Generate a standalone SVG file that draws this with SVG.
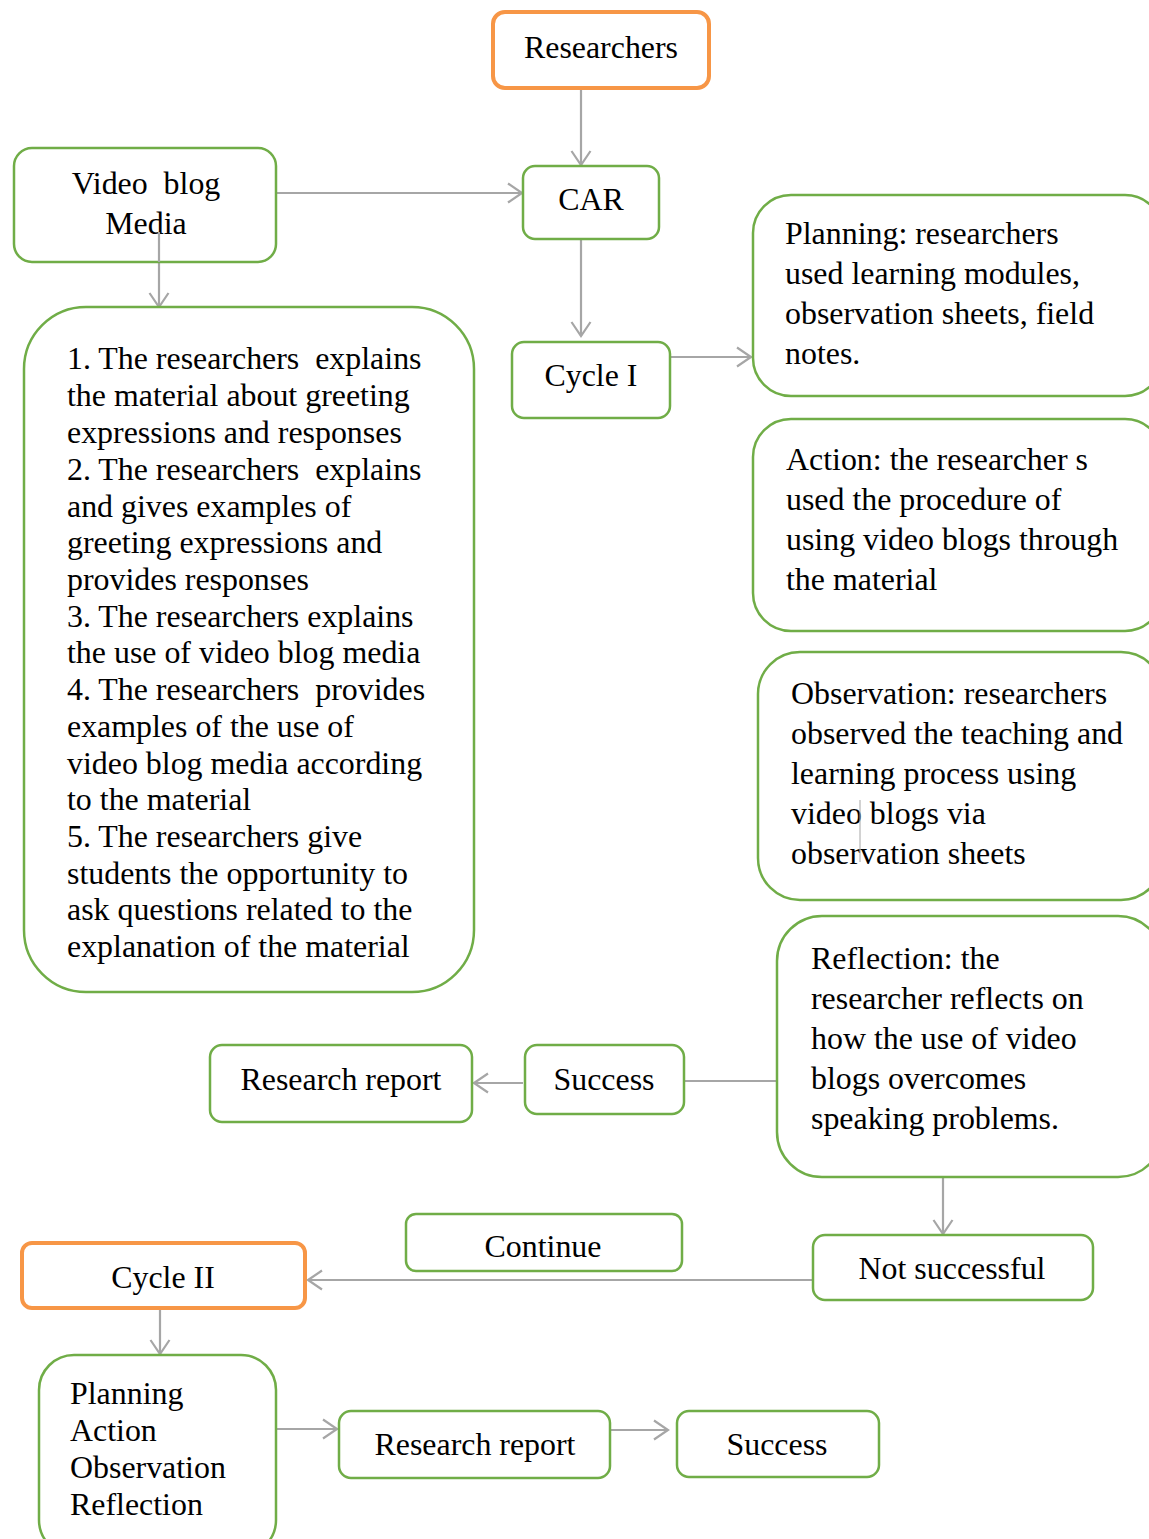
<svg xmlns="http://www.w3.org/2000/svg" width="1149" height="1539" viewBox="0 0 1149 1539">
<defs>
<marker id="arr" markerWidth="24" markerHeight="24" viewBox="0 0 24 24" refX="19" refY="12" orient="auto" markerUnits="userSpaceOnUse">
<path d="M5,2.5 L19,12 L5,21.5" fill="none" stroke="#a6a6a6" stroke-width="2.2"/>
</marker>
<style>
.g{fill:#fff;stroke:#70ad47;stroke-width:2.5}
.o{fill:#fff;stroke:#f79646;stroke-width:4}
text{font-family:"Liberation Serif","Times New Roman",serif;font-size:31.9px;fill:#000;white-space:pre}
.c{text-anchor:middle}
.ln{stroke:#a6a6a6;stroke-width:2.2;fill:none}
.la{stroke:#a6a6a6;stroke-width:2.2;fill:none;marker-end:url(#arr)}
</style>
</defs>
<rect width="1149" height="1539" fill="#fff"/>

<g id="connectors">
<line class="la" x1="581" y1="88" x2="581" y2="165"/>
<line class="la" x1="277" y1="193" x2="522" y2="193"/>
<line class="la" x1="159" y1="232" x2="159" y2="307"/>
<line class="la" x1="581" y1="239" x2="581" y2="336"/>
<line class="la" x1="670" y1="357" x2="751" y2="357"/>
<line class="ln" x1="684" y1="1081" x2="777" y2="1081"/>
<line class="la" x1="523" y1="1083" x2="474" y2="1083"/>
<line class="la" x1="943" y1="1177" x2="943" y2="1234"/>
<line class="la" x1="813" y1="1280" x2="308" y2="1280"/>
<line class="la" x1="160" y1="1308" x2="160" y2="1354"/>
<line class="la" x1="276" y1="1429" x2="337" y2="1429"/>
<line class="la" x1="611" y1="1430" x2="668" y2="1430"/>
</g>

<g id="researchers">
<rect class="o" x="493" y="12" width="216" height="76" rx="12"/>
<text class="c" x="601" y="58">Researchers</text>
</g>

<g id="videoblog">
<rect class="g" x="14" y="148" width="262" height="114" rx="18"/>
<text class="c" x="146" y="194">Video  blog</text>
<text class="c" x="146" y="234">Media</text>
</g>
<line x1="159" y1="232" x2="159" y2="262" stroke="#a6a6a6" stroke-width="2.2"/>

<g id="car">
<rect class="g" x="523" y="166" width="136" height="73" rx="12"/>
<text class="c" x="591" y="210">CAR</text>
</g>

<g id="cycle1">
<rect class="g" x="512" y="342" width="158" height="76" rx="12"/>
<text class="c" x="591" y="386">Cycle I</text>
</g>

<g id="steps">
<rect class="g" x="24" y="307" width="450" height="685" rx="62"/>
<text x="67" y="369">1. The researchers  explains</text>
<text x="67" y="406">the material about greeting</text>
<text x="67" y="443">expressions and responses</text>
<text x="67" y="480">2. The researchers  explains</text>
<text x="67" y="517">and gives examples of</text>
<text x="67" y="553">greeting expressions and</text>
<text x="67" y="590">provides responses</text>
<text x="67" y="627">3. The researchers explains</text>
<text x="67" y="663">the use of video blog media</text>
<text x="67" y="700">4. The researchers  provides</text>
<text x="67" y="737">examples of the use of</text>
<text x="67" y="774">video blog media according</text>
<text x="67" y="810">to the material</text>
<text x="67" y="847">5. The researchers give</text>
<text x="67" y="884">students the opportunity to</text>
<text x="67" y="920">ask questions related to the</text>
<text x="67" y="957">explanation of the material</text>
</g>

<g id="planning">
<rect class="g" x="753" y="195" width="410" height="201" rx="38"/>
<text x="785" y="244">Planning: researchers</text>
<text x="785" y="284">used learning modules,</text>
<text x="785" y="324">observation sheets, field</text>
<text x="785" y="364">notes.</text>
</g>

<g id="action">
<rect class="g" x="753" y="419" width="410" height="212" rx="38"/>
<text x="786" y="470">Action: the researcher s</text>
<text x="786" y="510">used the procedure of</text>
<text x="786" y="550">using video blogs through</text>
<text x="786" y="590">the material</text>
</g>

<g id="observation">
<rect class="g" x="758" y="652" width="405" height="248" rx="42"/>
<text x="791" y="704">Observation: researchers</text>
<text x="791" y="744">observed the teaching and</text>
<text x="791" y="784">learning process using</text>
<text x="791" y="824">video blogs via</text>
<text x="791" y="864">observation sheets</text>
<line x1="860" y1="800" x2="860" y2="862" stroke="#a6a6a6" stroke-width="1"/>
</g>

<g id="reflection">
<rect class="g" x="777" y="916" width="386" height="261" rx="45"/>
<text x="811" y="969">Reflection: the</text>
<text x="811" y="1009">researcher reflects on</text>
<text x="811" y="1049">how the use of video</text>
<text x="811" y="1089">blogs overcomes</text>
<text x="811" y="1129">speaking problems.</text>
</g>

<g id="report1">
<rect class="g" x="210" y="1045" width="262" height="77" rx="12"/>
<text class="c" x="341" y="1090">Research report</text>
</g>

<g id="success1">
<rect class="g" x="525" y="1045" width="159" height="69" rx="12"/>
<text class="c" x="604" y="1090">Success</text>
</g>

<g id="notsuccessful">
<rect class="g" x="813" y="1235" width="280" height="65" rx="12"/>
<text class="c" x="952" y="1279">Not successful</text>
</g>

<g id="continue">
<rect class="g" x="406" y="1214" width="276" height="57" rx="10"/>
<text class="c" x="543" y="1257">Continue</text>
</g>

<g id="cycle2">
<rect class="o" x="22" y="1243" width="283" height="65" rx="10"/>
<text class="c" x="163" y="1288">Cycle II</text>
</g>

<g id="paor">
<rect class="g" x="39" y="1355" width="237" height="200" rx="35"/>
<text x="70" y="1404">Planning</text>
<text x="70" y="1441">Action</text>
<text x="70" y="1478">Observation</text>
<text x="70" y="1515">Reflection</text>
</g>

<g id="report2">
<rect class="g" x="339" y="1411" width="271" height="67" rx="12"/>
<text class="c" x="475" y="1455">Research report</text>
</g>

<g id="success2">
<rect class="g" x="677" y="1411" width="202" height="66" rx="12"/>
<text class="c" x="777" y="1455">Success</text>
</g>
</svg>
